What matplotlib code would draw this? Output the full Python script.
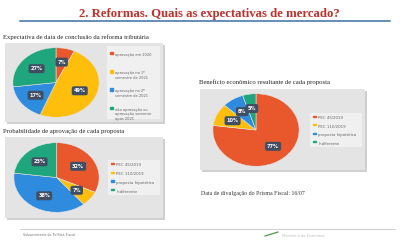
import matplotlib.pyplot as plt
from matplotlib.patches import Rectangle

# data
labels_1 = ["aprovação em 2020", "aprovação no 1º\nsemestre de 2021",
            "aprovação no 2º\nsemestre de 2021", "não aprovação ou\naprovação somente\napós 2021"]
values_1 = [7, 49, 17, 27]
labels_2 = ["PEC 45/2019", "PEC 110/2019", "proposta hipotética", "Indiferente"]
values_2 = [32, 7, 38, 23]
labels_3 = ["PEC 45/2019", "PEC 110/2019", "proposta hipotética", "Indiferente"]
values_3 = [77, 10, 8, 5]

colors = ["#E8582C", "#FFBE0B", "#2E8BDD", "#1FA67C"]

W, H = 400, 250
fig = plt.figure(figsize=(4, 2.5), dpi=100)
fig.patch.set_facecolor("white")
serif = ["Liberation Serif", "DejaVu Serif"]


def px_axes(x0, y0, x1, y1):
    # pixel box (top-left origin) -> figure axes
    return fig.add_axes([x0 / W, 1 - y1 / H, (x1 - x0) / W, (y1 - y0) / H])


def fig_text(x, y, s, **kw):
    fig.text(x / W, 1 - y / H, s, **kw)


def draw_chart(box, pie_box, leg_box, values, labels, lab_fs=2.8):
    # shadow + background
    sh = px_axes(box[0] + 2, box[1] + 2, box[2] + 2, box[3] + 2)
    sh.axis("off")
    sh.add_patch(Rectangle((0, 0), 1, 1, color="#CFCFCF", transform=sh.transAxes))
    bg = px_axes(*box)
    bg.axis("off")
    bg.add_patch(Rectangle((0, 0), 1, 1, color="#E4E4E4", transform=bg.transAxes))

    ax = px_axes(*pie_box)
    wedges, _, autotexts = ax.pie(values, colors=colors, startangle=90, counterclock=False,
                                  autopct="%d%%", pctdistance=0.6,
                                  wedgeprops=dict(edgecolor="#E4E4E4", linewidth=0.4),
                                  textprops=dict(fontsize=3.6, color="white", weight="bold"))
    for t in autotexts:
        t.set_bbox(dict(boxstyle="round,pad=0.4", fc="#3F4E63", ec="none"))
    ax.set_aspect("auto")
    ax.set_xlim(-1.02, 1.02)
    ax.set_ylim(-1.02, 1.02)

    lg = px_axes(*leg_box)
    lg.axis("off")
    lg.add_patch(Rectangle((0, 0), 1, 1, color="#F0F0F0", transform=lg.transAxes))
    n = len(labels)
    for i, (lab, c) in enumerate(zip(labels, colors)):
        yy = 1 - (i + 0.5) / n
        lg.add_patch(Rectangle((0.06, yy + 0.01), 0.06, 0.035, color=c, transform=lg.transAxes))
        lg.text(0.16, yy + 0.03, lab, fontsize=lab_fs, color="#666666", va="top",
                transform=lg.transAxes)


# header
fig_text(209, 14, "2. Reformas. Quais as expectativas de mercado?", ha="center", va="center",
         fontsize=9.2, color="#C0302A", weight="bold", family=serif)
fig.add_artist(plt.Line2D([20 / W, 390 / W], [1 - 21 / H, 1 - 21 / H], color="#3B6FA8", lw=1.1))

# chart 1
fig_text(3, 37, "Expectativa de data de conclusão da reforma tributária", va="center",
         fontsize=4.8, color="#222222", family=serif)
draw_chart((5, 43, 163, 122), (12, 47, 100, 118), (107, 46, 160, 119), values_1, labels_1,
           lab_fs=2.6)

# chart 2
fig_text(3, 131, "Probabilidade de aprovação de cada proposta", va="center",
         fontsize=4.8, color="#222222", family=serif)
draw_chart((5, 137, 163, 218), (13, 142, 100, 213), (108, 160, 160, 195), values_2, labels_2)

# chart 3
fig_text(199, 82, "Benefício econômico resultante de cada proposta", va="center",
         fontsize=4.8, color="#222222", family=serif)
draw_chart((200, 89, 365, 170), (212, 93, 300, 167), (310, 113, 362, 147), values_3, labels_3)

fig_text(201, 193, "Data de divulgação do Prisma Fiscal: 16/07", va="center",
         fontsize=4.2, color="#333333", family=serif)

# footer
fig.add_artist(plt.Line2D([20 / W, 395 / W], [1 - 229 / H, 1 - 229 / H], color="#BBBBBB", lw=0.5))
fig_text(23, 235, "Subsecretaria de Política Fiscal", va="center", fontsize=2.4, color="#777777")
fig.add_artist(plt.Line2D([265 / W, 278 / W], [1 - 236 / H, 1 - 232 / H], color="#3E8E3E", lw=0.8))
fig_text(282, 236, "Ministério da Economia", va="center", fontsize=2.6, color="#BBBBBB")

fig.savefig("out.png", dpi=100)
